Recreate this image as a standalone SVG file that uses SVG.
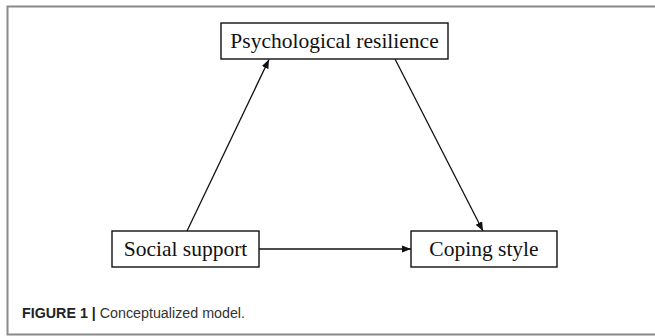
<svg xmlns="http://www.w3.org/2000/svg" width="655" height="336" viewBox="0 0 655 336">
<style>
.box{fill:#fff;stroke:#111;stroke-width:1.4}
.lbl{font-family:"Liberation Serif","Times New Roman",serif;font-size:21.5px;fill:#111;text-anchor:middle}
.edge{stroke:#111;stroke-width:1.3;fill:none;marker-end:url(#ah)}
.cap{font-family:"Liberation Sans",Arial,sans-serif;font-size:15.5px;fill:#333}
</style>
<defs>
<marker id="ah" viewBox="0 0 10 10" refX="10" refY="5" markerWidth="9" markerHeight="9" markerUnits="userSpaceOnUse" orient="auto">
<path d="M0,1 L10,5 L0,9 Z" fill="#111"/>
</marker>
</defs>
<rect x="7.5" y="6.5" width="660" height="328" fill="#fff" stroke="#8a8a8a" stroke-width="2"/>
<g id="connectors">
<line class="edge" x1="187" y1="231" x2="269" y2="59.5"/>
<line class="edge" x1="395" y1="59" x2="483" y2="231"/>
<line class="edge" x1="259" y1="249" x2="411" y2="249"/>
</g>
<g id="node-resilience">
<rect class="box" x="221" y="23" width="227" height="36"/>
<text class="lbl" x="334.5" y="48">Psychological resilience</text>
</g>
<g id="node-social">
<rect class="box" x="112" y="231" width="147" height="36"/>
<text class="lbl" x="185.5" y="256">Social support</text>
</g>
<g id="node-coping">
<rect class="box" x="411" y="231" width="146" height="36"/>
<text class="lbl" x="484" y="256">Coping style</text>
</g>
<text class="cap" x="22" y="318" textLength="223" lengthAdjust="spacingAndGlyphs"><tspan font-weight="bold" fill="#222">FIGURE 1 |</tspan> Conceptualized model.</text>
</svg>
